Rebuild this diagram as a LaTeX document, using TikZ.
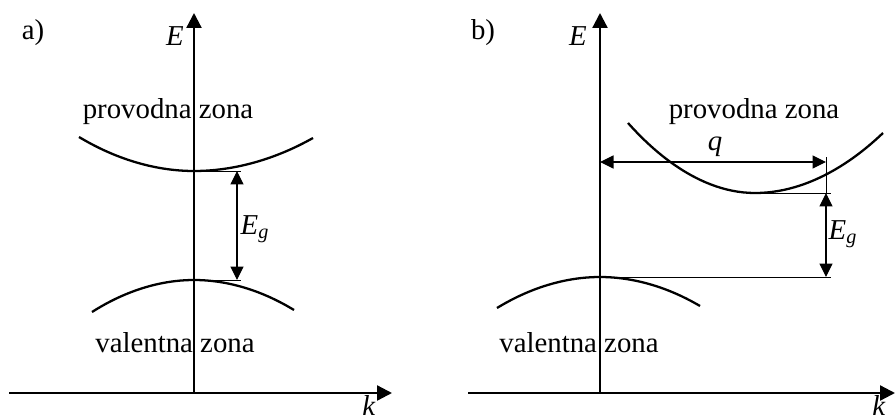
\documentclass[tikz,border=0pt]{standalone}
\usepackage{fontspec}
\setmainfont{Liberation Serif}
\usetikzlibrary{arrows.meta}

\begin{document}
\begin{tikzpicture}[
    x=0.02cm, y=-0.02cm,
    lbl/.style={font=\fontsize{16.4}{19}\selectfont, inner sep=0pt},
    axis/.style={-{Triangle[length=0.3cm, width=0.3cm]}, line width=1.3pt},
    band/.style={line width=1.3pt},
    guide/.style={line width=0.55pt},
    dim/.style={{Triangle[length=0.27cm, width=0.26cm]}-{Triangle[length=0.27cm, width=0.26cm]}, line width=0.6pt},
]
\useasboundingbox (0,0) rectangle (896,419);

%% ── Panel a) ─────────────────────────────────────────────────────────────
\coordinate (oa) at (194, 393);
\coordinate (ea) at (194, 13);
\coordinate (ka0) at (9, 393);
\coordinate (ka) at (392, 393);
\draw[axis] (oa) -- (ea);
\draw[axis] (ka0) -- (ka);

\node[lbl] (taga) at (33, 33) {a)};
\node[lbl] (Ea)   at (175, 36) {\textit{E}};
\node[lbl] (kla)  at (369, 405) {\textit{k}};

% bands
\coordinate (cmina) at (194, 171);
\coordinate (vmaxa) at (194, 280);
\draw[band] (79, 137) parabola bend (cmina) (313, 138);
\draw[band] (92, 312) parabola bend (vmaxa) (294, 310);
\node[lbl] (cba) at (168, 112) {provodna zona};
\node[lbl] (vba) at (175, 343) {valentna zona};

% gap
\coordinate (gta) at (241, 171);
\coordinate (gba) at (241, 280);
\draw[guide] (cmina) -- (gta);
\draw[guide] (vmaxa) -- (gba);
\draw[dim] (237, 171) -- (237, 280);
\node[lbl] (Ega) at (255, 229) {\textit{E}\textsubscript{\textit{g}}};

%% ── Panel b) ─────────────────────────────────────────────────────────────
\coordinate (ob) at (600, 393);
\coordinate (eb) at (600, 13);
\coordinate (kb0) at (468, 393);
\coordinate (kb) at (895, 393);
\draw[axis] (ob) -- (eb);
\draw[axis] (kb0) -- (kb);

\node[lbl] (tagb) at (483, 33) {b)};
\node[lbl] (Eb)   at (578, 36) {\textit{E}};
\node[lbl] (klb)  at (879, 405) {\textit{k}};

% bands
\coordinate (cminb) at (755, 193);
\coordinate (vmaxb) at (600, 277);
\draw[band] (628, 123) parabola bend (cminb) (883, 133);
\draw[band] (497, 308) parabola bend (vmaxb) (700, 306);
\node[lbl] (cbb) at (754, 112) {provodna zona};
\node[lbl] (vbb) at (579, 343) {valentna zona};

% wave vector q
\coordinate (qa) at (600, 162);
\coordinate (qb) at (826, 162);
\coordinate (qt) at (826, 157);
\draw[dim] (qa) -- (qb);
\node[lbl] (qlb) at (715, 147) {\textit{q}};

% gap
\coordinate (gtb) at (831, 193);
\coordinate (gbb) at (831, 277);
\coordinate (gxt) at (826, 193);
\coordinate (gxb) at (826, 277);
\draw[guide] (cminb) -- (gtb);
\draw[guide] (vmaxb) -- (gbb);
\draw[guide] (qt) -- (gxt);
\draw[dim] (gxt) -- (gxb);
\node[lbl] (Egb) at (843, 234) {\textit{E}\textsubscript{\textit{g}}};

\end{tikzpicture}
\end{document}
